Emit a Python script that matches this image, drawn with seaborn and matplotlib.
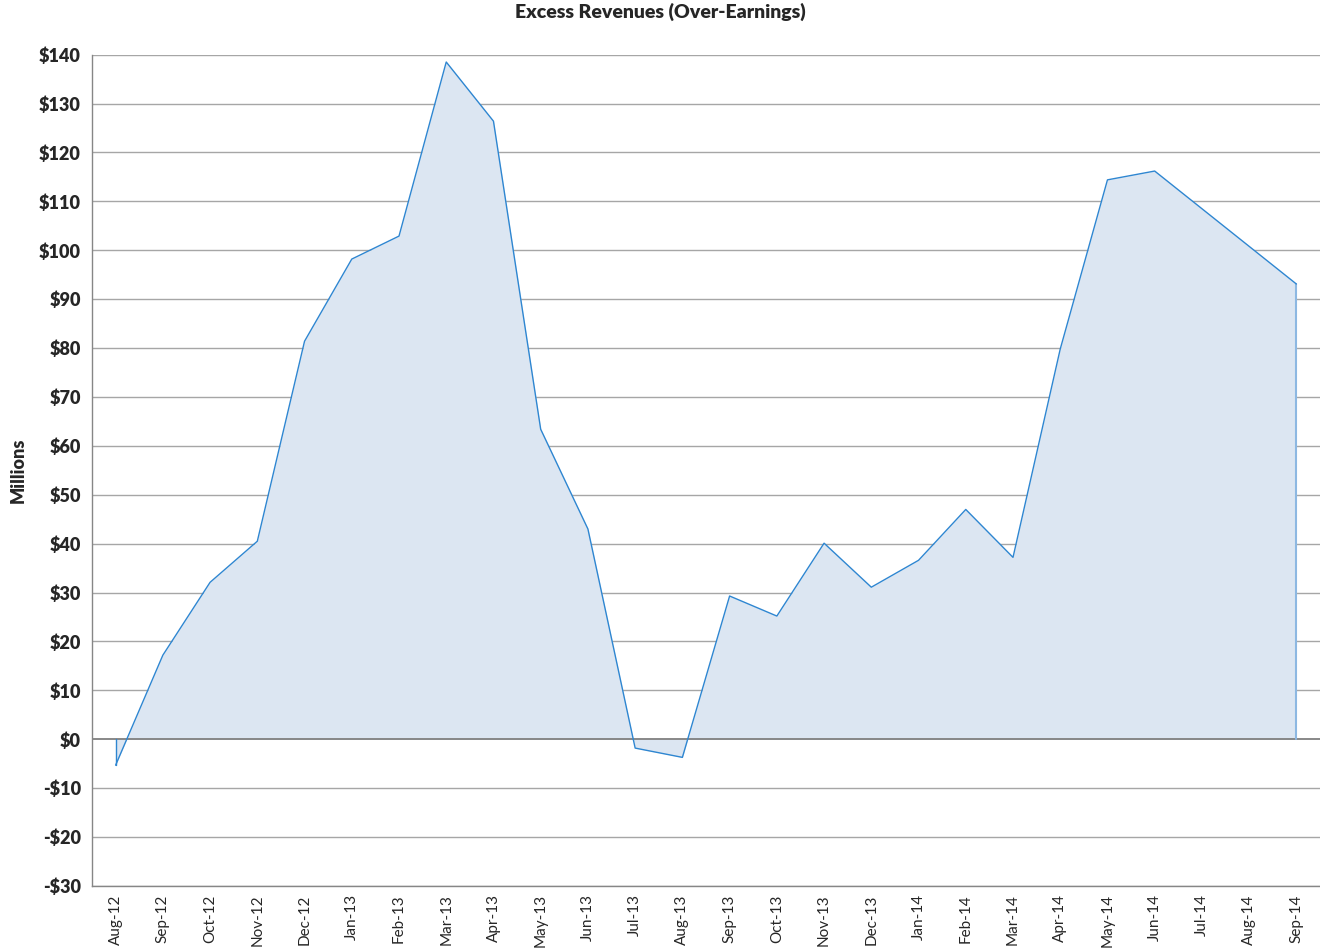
import numpy as np
import pandas as pd
import matplotlib
matplotlib.use("Agg")
import matplotlib.pyplot as plt
import seaborn as sns

# ── Data ────────────────────────────────────────────────
months = ['Aug-12', 'Sep-12', 'Oct-12', 'Nov-12', 'Dec-12', 'Jan-13', 'Feb-13',
          'Mar-13', 'Apr-13', 'May-13', 'Jun-13', 'Jul-13', 'Aug-13', 'Sep-13',
          'Oct-13', 'Nov-13', 'Dec-13', 'Jan-14', 'Feb-14', 'Mar-14', 'Apr-14',
          'May-14', 'Jun-14', 'Jul-14', 'Aug-14', 'Sep-14']
excess = [-5.3, 17.2, 32.1, 40.5, 81.4, 98.2, 102.9,
          138.5, 126.4, 63.4, 43.0, -1.8, -3.7, 29.3,
          25.2, 40.1, 31.1, 36.6, 47.0, 37.2, 79.8,
          114.4, 116.2, 108.5, 100.8, 93.1]
yticks = list(range(-30, 141, 10))

df = pd.DataFrame({'month': months, 'value': excess})
df['pos'] = np.arange(len(df))

# ── Style ───────────────────────────────────────────────
sns.set_style('white')
plt.rcParams['font.family'] = ['Lato', 'DejaVu Sans']

LINE = '#2E86D1'
FILL = '#DCE6F2'
GRID = '#A6A6A6'

fig = plt.figure(figsize=(13.2, 9.49), dpi=100)
ax = fig.add_axes([0.0697, 0.0664, 0.9303, 0.876])

ax.fill_between(df['pos'], df['value'], 0, color=FILL, lw=0, zorder=1)
# edges at the ends of the area
ax.plot([df['pos'].iloc[0]] * 2, [0, df['value'].iloc[0]], color=LINE, lw=1, zorder=3)
ax.plot([df['pos'].iloc[-1]] * 2, [0, df['value'].iloc[-1]], color='#8DB8E2', lw=1.5, zorder=3)
sns.lineplot(data=df, x='pos', y='value', color=LINE, lw=1, ax=ax, zorder=4)

ax.axhline(0, color='#7F7F7F', lw=1.3, zorder=2)
for y in yticks:
    if y != 0:
        ax.axhline(y, color=GRID, lw=1, zorder=0)

ax.set_xlim(-0.5, len(months) - 0.5)
ax.set_ylim(-30, 140)
ax.set_yticks(yticks)
ax.set_yticklabels([f'-${-v}' if v < 0 else f'${v}' for v in yticks],
                   fontsize=13, fontweight='heavy')
ax.set_xticks(df['pos'])
ax.set_xticklabels(months, rotation=90, fontsize=11)
ax.tick_params(axis='both', length=0, pad=8)
ax.tick_params(axis='x', pad=6)

for side in ['top', 'right']:
    ax.spines[side].set_visible(False)
for side in ['left', 'bottom']:
    ax.spines[side].set_color('#868686')
    ax.spines[side].set_linewidth(1)

ax.set_xlabel('')
ax.set_ylabel('Millions', fontsize=13, fontweight='heavy', labelpad=9)
fig.suptitle('Excess Revenues (Over-Earnings)', fontsize=14, fontweight='heavy', y=0.997)

fig.savefig('out.png', dpi=100)
